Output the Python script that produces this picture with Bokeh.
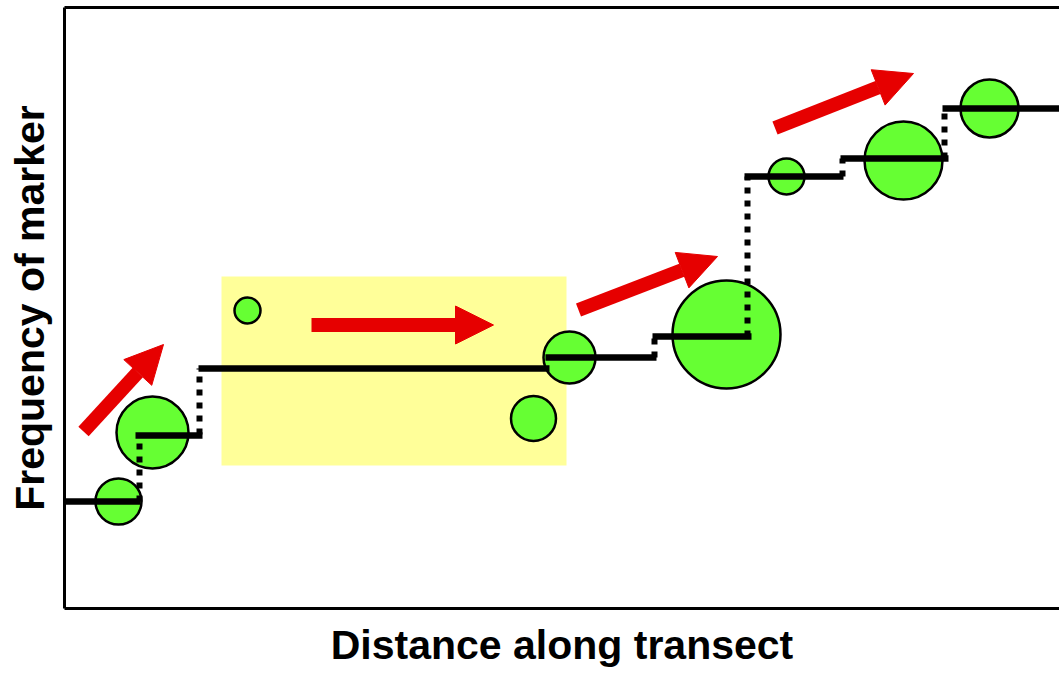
from bokeh.plotting import figure
from bokeh.models import Range1d, LinearAxis, Arrow, NormalHead
from bokeh.embed import file_html
from bokeh.resources import INLINE

# ---- data (arbitrary units along transect / frequency) ----
box_left, box_right, box_bottom, box_top = [157], [502], [143], [332]

circle_x = [54, 88, 183, 469, 505, 662, 722, 839, 925]
circle_y = [107, 176, 298, 190, 251, 274, 432, 448, 500]
circle_d = [46, 72, 26, 45, 52, 108, 36, 78, 58]

step_x0 = [0, 71, 134, 481, 588, 680, 776, 878]
step_x1 = [76, 138, 485, 592, 687, 779, 884, 995]
step_y = [107, 173, 240, 251, 272, 432, 450, 500]

jump_x = [75, 135, 590, 683, 778, 880]
jump_y0 = [107, 174, 251, 272, 432, 450]
jump_y1 = [173, 240, 272, 432, 450, 500]

arrow_x0 = [19, 247, 514, 710.5]
arrow_y0 = [177, 283.5, 298.5, 480.5]
arrow_x1 = [99, 429, 653, 849]
arrow_y1 = [264, 283.5, 352, 535]

x_label = "Distance along transect"
y_label = "Frequency of marker"

RED = "#E60000"
GREEN = "#66FF33"
YELLOW = "#FFFF99"
FONT = "Liberation Sans"

W, H = 1059, 672
p = figure(width=W, height=H, output_backend="svg", toolbar_location=None,
           x_range=Range1d(0, 995), y_range=Range1d(0, 601),
           min_border_left=64, min_border_right=0, min_border_top=7,
           min_border_bottom=H - 608)
p.outline_line_color = None
p.grid.visible = False
p.background_fill_color = "white"
p.border_fill_color = "white"

def style_axis(ax):
    ax.ticker = []
    ax.axis_line_width = 3
    ax.axis_line_color = "black"
    ax.major_tick_line_color = None
    ax.minor_tick_line_color = None
    ax.major_tick_out = 0
    ax.major_tick_in = 0
    ax.minor_tick_out = 0
    ax.minor_tick_in = 0
    ax.axis_label_text_font = FONT
    ax.axis_label_text_font_style = "bold"
    ax.axis_label_text_font_size = "41px"
    ax.axis_label_text_color = "black"

style_axis(p.xaxis[0])
style_axis(p.yaxis[0])
p.xaxis[0].axis_label = x_label
p.yaxis[0].axis_label = y_label
p.xaxis[0].axis_label_standoff = 13
p.yaxis[0].axis_label_standoff = 12
top_axis = LinearAxis()
style_axis(top_axis)
p.add_layout(top_axis, "above")

p.quad(left=box_left, right=box_right, bottom=box_bottom, top=box_top,
       fill_color=YELLOW, line_color=None)

p.scatter(circle_x, circle_y, size=circle_d, marker="circle",
          fill_color=GREEN, line_color="black", line_width=2.5)

p.segment(x0=jump_x, y0=jump_y0, x1=jump_x, y1=jump_y1,
          line_color="black", line_width=6, line_dash="6 7")
p.segment(x0=step_x0, y0=step_y, x1=step_x1, y1=step_y,
          line_color="black", line_width=6.5)

for xs, ys, xe, ye in zip(arrow_x0, arrow_y0, arrow_x1, arrow_y1):
    p.add_layout(Arrow(end=NormalHead(size=38, fill_color=RED, line_color=RED, line_width=1),
                       x_start=xs, y_start=ys, x_end=xe, y_end=ye,
                       line_color=RED, line_width=14))

open("out.html", "w").write(file_html(p, INLINE))
